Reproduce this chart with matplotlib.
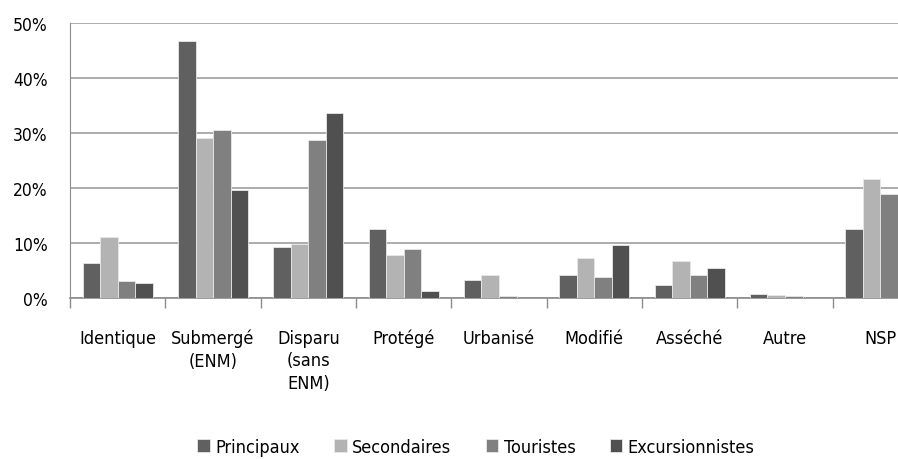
import numpy as np
import matplotlib
matplotlib.use('Agg')
import matplotlib.pyplot as plt
from matplotlib.ticker import FixedLocator

plt.rcParams['font.family'] = ['DejaVu Sans']
plt.rcParams['font.stretch'] = 'condensed'

categories = ['Identique', 'Submergé\n(ENM)', 'Disparu\n(sans\nENM)', 'Protégé',
              'Urbanisé', 'Modifié', 'Asséché', 'Autre', 'NSP']
series = ['Principaux', 'Secondaires', 'Touristes', 'Excursionnistes']

principaux = [6.3, 46.8, 9.3, 12.6, 3.3, 4.1, 2.4, 0.8, 12.6]
secondaires = [11.0, 29.1, 9.9, 7.9, 4.2, 7.3, 6.8, 0.5, 21.7]
touristes = [3.0, 30.5, 28.7, 8.9, 0.4, 3.8, 4.2, 0.4, 18.9]
excursionnistes = [2.7, 19.6, 33.6, 1.2, 0.0, 9.6, 5.4, 0.0, np.nan]

colors = ['#606060', '#b3b3b3', '#808080', '#505050']

fig = plt.figure(figsize=(8.98, 4.6), dpi=100)
ax = fig.add_axes([0.078, 0.35, 0.922, 0.598])

x = np.arange(len(categories))
w = 0.184
data = [principaux, secondaires, touristes, excursionnistes]
for i, vals in enumerate(data):
    ax.bar(x + (i - 1.5) * w, vals, w, color=colors[i], label=series[i],
           edgecolor='#e8e8e8', linewidth=0.6, zorder=3)

ax.set_ylim(0, 50)
ax.set_xlim(-0.5, 8.185)
ax.set_yticks(range(0, 51, 10))
ax.set_yticklabels(['%d%%' % v for v in range(0, 51, 10)], fontsize=12.5)
ax.yaxis.grid(True, color='#a6a6a6', linewidth=1.3, zorder=0)
ax.set_axisbelow(True)

ax.set_xticks(x)
ax.set_xticklabels(categories, fontsize=13, linespacing=1.35, va='top')
ax.xaxis.set_minor_locator(FixedLocator(x - 0.5))
ax.tick_params(axis='x', which='major', length=0, pad=22)
ax.tick_params(axis='x', which='minor', length=7, color='#8c8c8c', width=1)
ax.tick_params(axis='y', length=0, pad=16)

for s in ['top', 'right']:
    ax.spines[s].set_visible(False)
ax.spines['left'].set_color('#8c8c8c')
ax.spines['bottom'].set_color('#8c8c8c')
ax.spines['bottom'].set_linewidth(1.2)

fig.legend(loc='center', bbox_to_anchor=(0.53, 0.026), ncol=4, frameon=False,
           fontsize=13, handlelength=0.7, handleheight=0.7, handletextpad=0.3,
           columnspacing=1.9)

fig.savefig('out.png', dpi=100)
